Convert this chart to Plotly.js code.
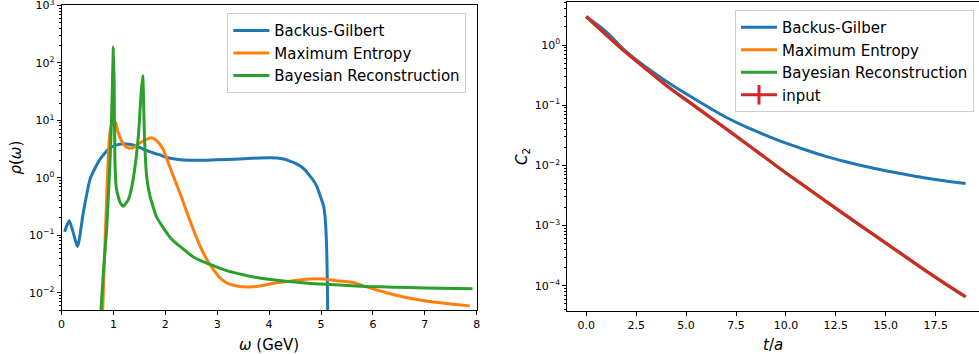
<!DOCTYPE html>
<html>
<head>
<meta charset="utf-8">
<script src="https://cdn.plot.ly/plotly-3.0.1.min.js"></script>
<style>
html,body{margin:0;padding:0;overflow:hidden;background:#fff;}
#chart{width:979px;height:354px;}
</style>
</head>
<body>
<div id="chart"></div>
<script>
// ---- Left panel: spectral function rho(omega) ----
const bgOmega = [0.06,0.15,0.31,0.42,0.55,0.65,0.74,0.85,0.93,1.05,1.19,1.3,1.45,1.6,1.7,1.8,1.9,2.0,2.155,2.3,2.54,2.8,3.18,3.5,3.82,4.146,4.3,4.4,4.5,4.6,4.7,4.79,4.86,4.92,4.98,5.05,5.08,5.11,5.125,5.135];
const bgRho   = [0.115,0.18,0.064,0.25,0.95,1.5,2.1,2.8,3.3,3.7,3.9,3.85,3.55,3.1,2.85,2.65,2.5,2.3,2.14,2.07,2.03,2.03,2.08,2.15,2.22,2.22,2.1,1.95,1.8,1.6,1.35,1.07,0.88,0.71,0.5,0.32,0.2,0.057,0.01,0.0008];

const meOmega = [0.78,0.79,0.84,0.87,0.92,0.96,1.0,1.04,1.09,1.15,1.22,1.3,1.38,1.5,1.6,1.72,1.8,1.88,1.962,2.05,2.155,2.28,2.41,2.54,2.67,2.8,2.925,3.05,3.18,3.375,3.63,3.82,4.146,4.47,4.79,5.05,5.3,5.62,5.88,6.26,6.71,7.16,7.55,7.87];
const meRho   = [0.002,0.004,0.08,0.45,4.6,8.3,9.8,9.2,6.2,4.5,3.6,3.3,3.35,4.0,4.5,5.0,4.7,4.0,3.1,1.9,1.07,0.55,0.26,0.126,0.065,0.038,0.0254,0.0182,0.0149,0.0131,0.0126,0.0131,0.0149,0.0162,0.0173,0.0173,0.0162,0.015,0.0126,0.010,0.0080,0.0069,0.0063,0.0059];

const brOmega = [0.745,0.81,0.87,0.934,0.967,0.985,1.0,1.015,1.03,1.06,1.13,1.19,1.29,1.38,1.48,1.53,1.565,1.6,1.64,1.705,1.83,1.95,2.1,2.3,2.54,2.75,2.95,3.2,3.5,3.82,4.146,4.5,4.79,5.11,5.43,5.9,6.39,7.0,7.92];
const brRho   = [0.003,0.025,0.126,1.8,13,60,190,40,1.8,0.63,0.37,0.32,0.42,0.93,5.2,26,60,4.7,1.07,0.48,0.21,0.14,0.09,0.062,0.042,0.034,0.029,0.024,0.0205,0.018,0.0165,0.0153,0.0145,0.014,0.0135,0.0128,0.0125,0.0121,0.0117];

// ---- Right panel: correlator C2(t) ----
const tVals   = [0,1,2,3,4,5,6,7,8,9,10,11,12,13,14,15,16,17,18,19];
const bgC2    = [2.95,1.66,0.776,0.427,0.251,0.155,0.0977,0.0631,0.0437,0.0316,0.0234,0.018,0.0141,0.0115,0.00955,0.00813,0.00708,0.00617,0.0055,0.00501];
const meC2    = [2.96,1.48,0.75,0.40,0.214,0.123,0.0708,0.0407,0.0232,0.0132,0.0075,0.00437,0.00254,0.00148,0.00087,0.000513,0.000302,0.000178,0.000107,0.0000653];
const brC2    = [2.94,1.47,0.745,0.397,0.212,0.122,0.0703,0.0404,0.023,0.0131,0.00745,0.00434,0.00252,0.00147,0.000864,0.000509,0.0003,0.000177,0.000106,0.0000648];
const inputC2 = [2.99,1.48,0.75,0.40,0.214,0.123,0.0708,0.0407,0.0232,0.0132,0.0075,0.00437,0.00254,0.00148,0.00087,0.000513,0.000302,0.000178,0.000107,0.0000653];

// tick labels
const leftXTicks  = [0,1,2,3,4,5,6,7,8];
const leftYVals   = [0.01,0.1,1,10,100,1000];
const leftYText   = ['10<sup>\u22122</sup>','10<sup>\u22121</sup>','10<sup>0</sup>','10<sup>1</sup>','10<sup>2</sup>','10<sup>3</sup>'];
const rightYVals  = [0.0001,0.001,0.01,0.1,1];
const rightYText  = ['10<sup>\u22124</sup>','10<sup>\u22123</sup>','10<sup>\u22122</sup>','10<sup>\u22121</sup>','10<sup>0</sup>'];

const names = ['Backus-Gilbert','Maximum Entropy','Bayesian Reconstruction'];
const colors = ['#1f77b4','#ff7f0e','#2ca02c','#d62728'];

function minorVals(e0, e1){
  const out=[];
  for(let e=e0;e<=e1;e++){ for(let d=2;d<=9;d++){ out.push(d*Math.pow(10,e)); } }
  return out;
}

const W = 979, H = 354;
const FONT = 'DejaVu Sans, sans-serif';
const SM = 0.5;

const traces = [
  {x:bgOmega,y:bgRho,name:names[0],mode:'lines',line:{color:colors[0],width:3,shape:'spline',smoothing:SM},xaxis:'x',yaxis:'y',legend:'legend'},
  {x:meOmega,y:meRho,name:names[1],mode:'lines',line:{color:colors[1],width:3,shape:'spline',smoothing:SM},xaxis:'x',yaxis:'y',legend:'legend'},
  {x:brOmega,y:brRho,name:names[2],mode:'lines',line:{color:colors[2],width:3,shape:'spline',smoothing:SM},xaxis:'x',yaxis:'y',legend:'legend'},

  {x:tVals,y:bgC2,name:'Backus-Gilber',mode:'lines',line:{color:colors[0],width:3,shape:'spline',smoothing:0.8},xaxis:'x2',yaxis:'y2',legend:'legend2'},
  {x:tVals,y:meC2,name:names[1],mode:'lines',line:{color:colors[1],width:3,shape:'spline',smoothing:0.8},xaxis:'x2',yaxis:'y2',legend:'legend2'},
  {x:tVals,y:brC2,name:names[2],mode:'lines',line:{color:colors[2],width:3,shape:'spline',smoothing:0.8},xaxis:'x2',yaxis:'y2',legend:'legend2'},
  {x:tVals,y:inputC2,name:'input',mode:'lines',line:{color:colors[3],width:3,shape:'spline',smoothing:0.8},xaxis:'x2',yaxis:'y2',showlegend:false,legend:'legend2'},
  // legend-only entry for the errorbar-style key
  {x:[null],y:[null],name:'input',mode:'lines+markers',line:{color:colors[3],width:3},
   marker:{symbol:'line-ns-open',size:14,line:{color:colors[3],width:3}},xaxis:'x2',yaxis:'y2',legend:'legend2'}
];

const tickFont = {family:FONT,size:11,color:'#000'};
const titleFont = {family:FONT,size:15,color:'#000'};
const legFont = {family:FONT,size:15,color:'#000'};

const baseAx = {showline:true,linecolor:'#000',linewidth:1,ticks:'outside',ticklen:4,tickwidth:1,tickcolor:'#000',
  showgrid:false,zeroline:false,tickfont:tickFont,ticklabeloverflow:'allow'};

const layout = {
  width:W,height:H,margin:{l:0,r:0,t:0,b:0},paper_bgcolor:'#fff',plot_bgcolor:'#fff',
  font:{family:FONT,color:'#000'},
  showlegend:true,
  xaxis:Object.assign({},baseAx,{domain:[61.5/W,476.7/W],range:[0,8],mirror:true,tickmode:'array',tickvals:leftXTicks,
    title:{text:'<i>ω</i> (GeV)',font:titleFont},automargin:false,anchor:'y'}),
  yaxis:Object.assign({},baseAx,{type:'log',domain:[(H-310)/H,(H-5.3)/H],range:[Math.log10(0.005),3.003],mirror:true,
    tickmode:'array',tickvals:leftYVals,ticktext:leftYText,
    minor:{ticks:'outside',ticklen:2,tickwidth:1,tickcolor:'#000',tickvals:minorVals(-3,2)},
    title:{text:'<i>ρ</i>(<i>ω</i>)',font:titleFont},automargin:false,anchor:'x'}),
  xaxis2:Object.assign({},baseAx,{domain:[567.3/W,1],range:[-0.95,19.67],mirror:true,tickmode:'linear',tick0:0,dtick:2.5,tickformat:'.1f',
    title:{text:'<i>t</i>/<i>a</i>',font:titleFont},automargin:false,anchor:'y2'}),
  yaxis2:Object.assign({},baseAx,{type:'log',domain:[(H-310.7)/H,(H-2.3)/H],range:[-4.415,0.71],mirror:false,
    tickmode:'array',tickvals:rightYVals,ticktext:rightYText,
    minor:{ticks:'outside',ticklen:2,tickwidth:1,tickcolor:'#000',tickvals:minorVals(-5,0)},
    title:{text:'<i>C</i><sub>2</sub>',font:titleFont},automargin:false,anchor:'x2'}),
  legend:{x:227.3/W,y:(H-13.3)/H,xanchor:'left',yanchor:'top',bgcolor:'rgba(255,255,255,0.8)',bordercolor:'#cccccc',borderwidth:1,font:legFont,itemwidth:36},
  legend2:{x:735/W,y:(H-10)/H,xanchor:'left',yanchor:'top',bgcolor:'rgba(255,255,255,0.8)',bordercolor:'#cccccc',borderwidth:1,font:legFont,itemwidth:36}
};

Plotly.newPlot('chart',traces,layout,{displayModeBar:false,staticPlot:true});
</script>
</body>
</html>
